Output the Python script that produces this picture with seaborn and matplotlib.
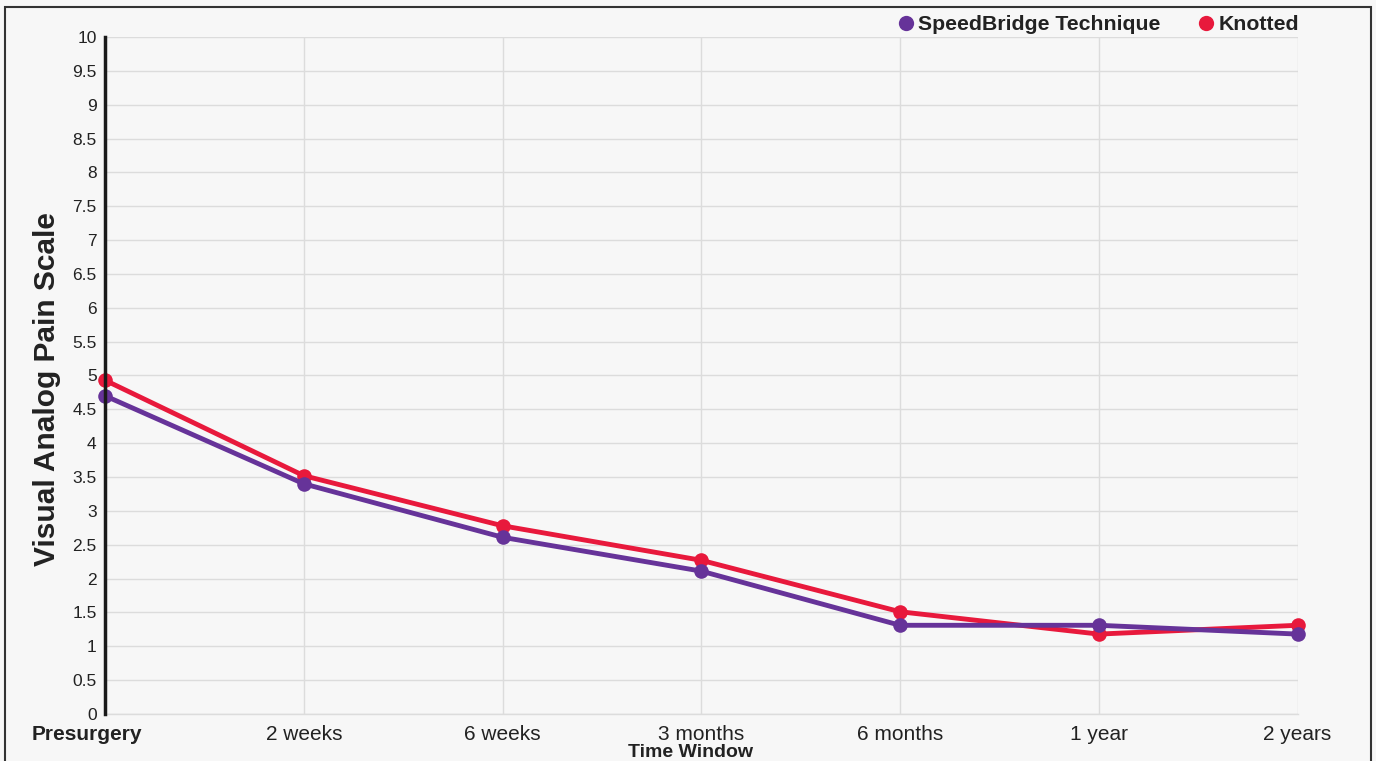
import pandas as pd
import numpy as np
from matplotlib import pyplot as plt
from matplotlib.patches import Rectangle
from matplotlib.lines import Line2D
from matplotlib.ticker import FuncFormatter
from matplotlib.transforms import ScaledTranslation
import seaborn as sns

# Time points and mean VAS scores
time_points = ['Presurgery', '2 weeks', '6 weeks', '3 months', '6 months', '1 year', '2 years']
speedbridge = [4.70, 3.40, 2.61, 2.11, 1.31, 1.31, 1.18]
knotted = [4.93, 3.52, 2.78, 2.27, 1.51, 1.18, 1.31]
series_names = ['SpeedBridge Technique', 'Knotted']
series_colors = ['#663399', '#e8193c']

df = pd.DataFrame({
    'Time': time_points * 2,
    'VAS': knotted + speedbridge,
    'Group': ['Knotted'] * len(time_points) + ['SpeedBridge Technique'] * len(time_points),
})

sns.set_theme(style='white')
plt.rcParams['font.family'] = ['Liberation Sans', 'DejaVu Sans']

fig = plt.figure(figsize=(13.76, 7.61), dpi=100, facecolor='#f7f7f7')
ax = fig.add_axes([0.0763, 0.0618, 0.8667, 0.8896])
ax.set_facecolor('#f7f7f7')

# Knotted first so the purple line sits on top
sns.lineplot(data=df, x='Time', y='VAS', hue='Group', hue_order=['Knotted', 'SpeedBridge Technique'],
             palette={'Knotted': series_colors[1], 'SpeedBridge Technique': series_colors[0]},
             marker='o', markersize=10.5, markeredgewidth=0, linewidth=3.5, sort=False,
             legend=False, ax=ax, zorder=3)
for line in ax.lines:
    line.set_clip_on(False)

ax.set_xlim(0, len(time_points) - 1)
ax.set_ylim(0, 10)
ax.set_yticks(np.arange(0, 10.5, 0.5))
ax.yaxis.set_major_formatter(FuncFormatter(lambda v, p: f'{v:g}'))
ax.grid(True, color='#dcdcdc', linewidth=1)
ax.set_axisbelow(True)

for side in ['top', 'right']:
    ax.spines[side].set_visible(False)
ax.spines['bottom'].set_color('#dcdcdc')
ax.spines['bottom'].set_linewidth(1)
ax.spines['left'].set_color('#1a1a1a')
ax.spines['left'].set_linewidth(2.5)
ax.spines['left'].set_zorder(4)

ax.tick_params(axis='y', length=0, labelsize=12.5, pad=6, colors='#222222')
ax.tick_params(axis='x', length=0, labelsize=15, pad=8, colors='#222222')
ax.set_xticks(range(len(time_points)))
ax.set_xticklabels(time_points)
fig.canvas.draw()
first = ax.get_xticklabels()[0]
first.set_fontweight('bold')
first.set_transform(first.get_transform() + ScaledTranslation(-0.18, 0, fig.dpi_scale_trans))

ax.set_xlabel('')
ax.set_ylabel('Visual Analog Pain Scale', fontsize=21.5, fontweight='bold', color='#222222')
ax.yaxis.set_label_coords(-0.037, 0.48)
fig.text(0.5015, 0.0115, 'Time Window', ha='center', va='center', fontsize=14, fontweight='bold', color='#222222')

# Legend above the plot area
handles = [Line2D([], [], linestyle='none', marker='o', markersize=11, color=c, markeredgewidth=0)
           for c in series_colors]
ax.legend(handles, series_names, loc='lower right', bbox_to_anchor=(1.010, 0.988), ncol=2, frameon=False,
          prop={'size': 15.3, 'weight': 'bold'}, handletextpad=-0.43, columnspacing=1.14, borderaxespad=0.1,
          labelcolor='#222222')

# Outer frame
fig.patches.append(Rectangle((5 / 1376, -0.05), 1366 / 1376, 1.05 - 7 / 761, transform=fig.transFigure,
                             fill=False, edgecolor='#333333', linewidth=1.5))

fig.savefig('out.png', dpi=100, facecolor=fig.get_facecolor())
